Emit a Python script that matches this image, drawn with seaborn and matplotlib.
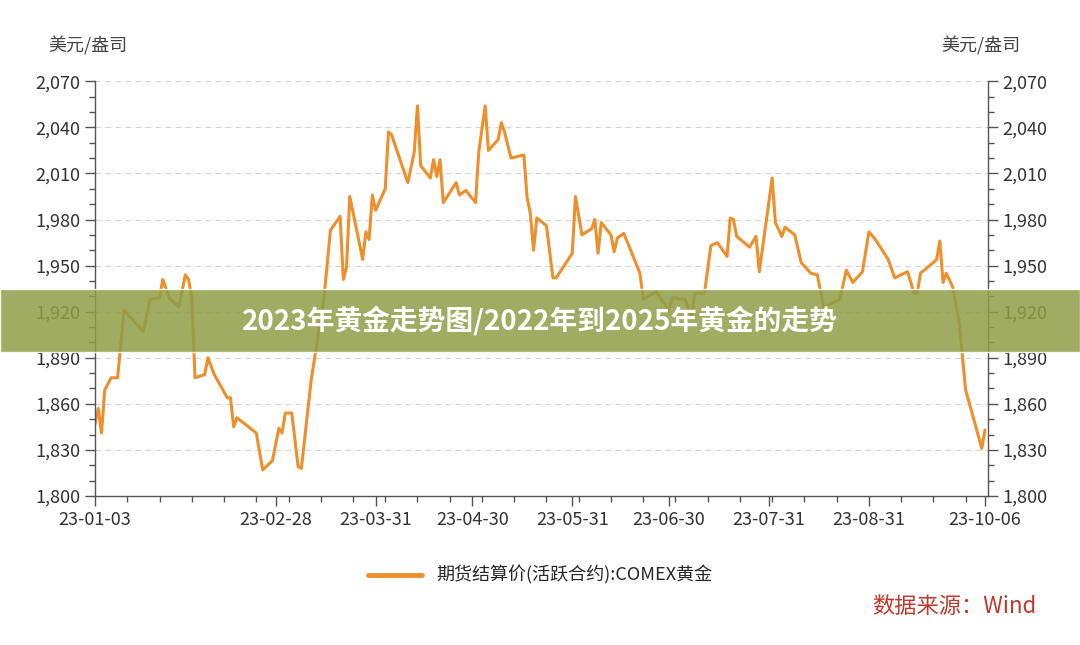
import matplotlib
matplotlib.use("Agg")
import matplotlib.pyplot as plt
import matplotlib.patches as mpatches
import seaborn as sns
import pandas as pd
import numpy as np

days = [0,1,2,3,5,7,9,15,17,20,21,23,26,28,29,30,31,34,35,37,41,42,43,44,50,52,55,57,58,59,61,63,64,67,71,73,76,77,78,79,83,84,85,86,87,90,91,92,97,99,100,101,104,105,106,107,108,112,113,115,118,119,121,122,125,126,127,129,133,134,135,136,137,140,142,143,148,149,151,154,155,156,157,160,161,162,164,169,170,174,178,179,183,185,186,189,191,193,196,197,198,199,203,205,206,210,211,213,214,217,219,222,224,226,231,233,235,238,240,242,246,248,252,254,255,256,260,261,262,263,264,266,268,270,272,275,276]
values = [1847,1857,1841,1869,1877,1877,1921,1907,1928,1929,1941,1929,1923,1944,1941,1929,1877,1879,1890,1879,1864,1864,1845,1851,1841,1817,1823,1844,1841,1854,1854,1819,1818,1875,1929,1973,1982,1941,1949,1995,1954,1972,1967,1996,1986,2000,2037,2035,2004,2024,2054,2015,2007,2019,2008,2019,1991,2004,1996,1999,1991,2024,2054,2025,2032,2043,2037,2020,2022,1994,1984,1960,1981,1976,1942,1942,1958,1995,1970,1974,1980,1958,1978,1970,1959,1968,1971,1945,1928,1933,1921,1929,1928,1917,1932,1932,1963,1965,1956,1981,1980,1969,1962,1969,1946,2007,1978,1969,1975,1970,1952,1945,1944,1923,1928,1947,1939,1946,1972,1967,1954,1942,1946,1932,1932,1945,1952,1954,1966,1939,1945,1936,1913,1869,1854,1831,1843]
tick_labels = ["23-01-03","23-02-28","23-03-31","23-04-30","23-05-31","23-06-30","23-07-31","23-08-31","23-10-06"]
yticks = [1800,1830,1860,1890,1920,1950,1980,2010,2040,2070]
series_name = "期货结算价(活跃合约):COMEX黄金"

sns.set_theme(style="white")
plt.rcParams['font.family'] = ['Noto Sans CJK SC', 'DejaVu Sans']

start = pd.Timestamp("2023-01-03")
df = pd.DataFrame({"date": [start + pd.Timedelta(days=d) for d in days], "value": values})
tick_dates = [pd.to_datetime("20" + t) for t in tick_labels]

fig = plt.figure(figsize=(10.8, 6.45), dpi=100)
ax = fig.add_axes([0.088, 0.231, 0.827, 0.643])
color = "#ee8f2c"
sns.lineplot(data=df, x="date", y="value", ax=ax, color=color, linewidth=2.2, label=series_name, legend=False)

ax.set_xlim(start, pd.Timestamp("2023-10-06") + pd.Timedelta(days=1))
ax.set_ylim(1800, 2070)
ax.set_yticks(yticks)
ax.set_yticklabels([f"{v:,}" for v in yticks], fontsize=13, color="#333333")
ax.set_xticks(tick_dates)
ax.set_xticklabels(tick_labels, fontsize=13, color="#333333")
ax.set_xticks([start + pd.Timedelta(days=d) for d in range(0, 277, 10)], minor=True)
ax.set_yticks(list(range(1800, 2071, 10)), minor=True)
ax.tick_params(axis="both", which="major", length=7, width=1, color="#555555", direction="out")
ax.tick_params(axis="both", which="minor", length=4, width=1, color="#555555")
ax.tick_params(axis="y", which="both", right=True, labelright=True, left=True)
ax.tick_params(axis="x", which="both", bottom=True)
ax.set_xlabel(""); ax.set_ylabel("")
for y in yticks[1:]:
    ax.axhline(y, color="#d5d5d5", linestyle=(0, (5, 4)), linewidth=0.8, zorder=0)
ax.spines["top"].set_visible(False)
for s in ["left", "right", "bottom"]:
    ax.spines[s].set_color("#555555"); ax.spines[s].set_linewidth(1)

fig.text(0.045, 0.92, "美元/盎司", fontsize=13, color="#444444")
fig.text(0.872, 0.92, "美元/盎司", fontsize=13, color="#444444")

handles = [plt.Line2D([], [], color=color, linewidth=3.5)]
fig.legend(handles, [series_name], loc="center", bbox_to_anchor=(0.5, 0.108), frameon=False, fontsize=13, handlelength=3)
fig.text(0.96, 0.05, "数据来源：Wind", fontsize=16, color="#c0392b", ha="right")

fig.patches.append(mpatches.Rectangle((0, 0.455), 1, 0.097, transform=fig.transFigure,
                                      facecolor="#8f9e45", alpha=0.85, zorder=10))
fig.text(0.5, 0.503, "2023年黄金走势图/2022年到2025年黄金的走势", fontsize=20, fontweight="bold",
         color="white", ha="center", va="center", zorder=11)

fig.savefig("out.png", dpi=100)
